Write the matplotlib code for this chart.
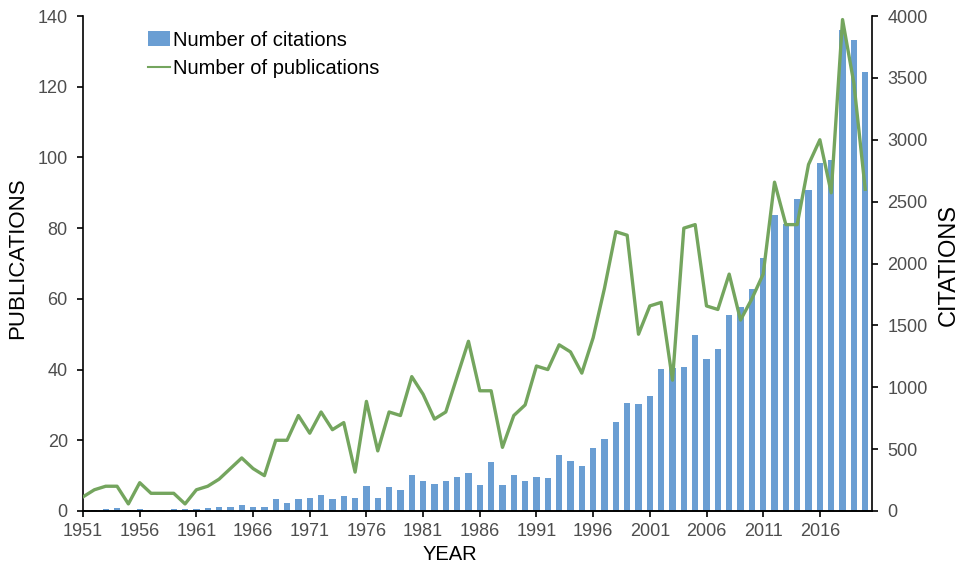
import matplotlib
matplotlib.use("Agg")
import matplotlib.pyplot as plt
import numpy as np
from matplotlib.patches import Patch
from matplotlib.lines import Line2D

years = list(range(1951, 2021))
publications = [4, 6, 7, 7, 2, 8, 5, 5, 5, 2,
                6, 7, 9, 12, 15, 12, 10, 20, 20, 27,
                22, 28, 23, 25, 11, 31, 17, 28, 27, 38,
                33, 26, 28, 38, 48, 34, 34, 18, 27, 30,
                41, 40, 47, 45, 39, 49, 63, 79, 78, 50,
                58, 59, 37, 80, 81, 58, 57, 67, 54, 60,
                67, 93, 81, 81, 98, 105, 90, 139, 121, 91]
citations = [5, 5, 19, 27, 11, 19, 11, 8, 13, 13,
             19, 22, 32, 32, 45, 31, 35, 95, 65, 97,
             103, 131, 95, 119, 105, 203, 108, 195, 167, 294,
             244, 219, 245, 276, 303, 211, 392, 211, 290, 244,
             271, 265, 450, 401, 363, 505, 584, 720, 870, 862,
             932, 1147, 1152, 1166, 1424, 1227, 1307, 1583, 1645, 1790,
             2046, 2388, 2320, 2520, 2592, 2812, 2840, 3890, 3810, 3550]
tick_years = [str(y) for y in range(1951, 2020, 5)]

plt.rcParams['font.family'] = ['Liberation Sans', 'DejaVu Sans']

W, H = 961, 566
fig = plt.figure(figsize=(W / 100, H / 100), dpi=100)
ax = fig.add_axes([0.0864, 0.0972, 0.8210, 0.8745])
ax2 = ax.twinx()

bar_color = '#6A9ED3'
line_color = '#74A55E'
tick_color = '#4D4D4D'

x = np.arange(len(years))
ax2.bar(x, citations, width=0.55, color=bar_color, zorder=2)
ax.plot(x, publications, color=line_color, linewidth=2.4, zorder=3)

ax.set_zorder(ax2.get_zorder() + 1)
ax.patch.set_visible(False)

ax.set_xlim(0, 69.6)
ax.set_ylim(0, 140)
ax2.set_ylim(0, 4000)
ax.set_yticks(range(0, 141, 20))
ax2.set_yticks(range(0, 4001, 500))

tick_pos = [years.index(int(t)) for t in tick_years]
ax.set_xticks(tick_pos)
ax.set_xticklabels(tick_years)

for a in (ax, ax2):
    a.spines['top'].set_visible(False)
    for s in a.spines.values():
        s.set_linewidth(1.2)
        s.set_color('black')
    a.tick_params(direction='out', length=4, width=1.2, labelsize=13,
                  labelcolor=tick_color, color='black', pad=7)
ax.tick_params(axis='x', pad=5)
ax2.spines['left'].set_visible(False)
ax.spines['right'].set_visible(False)

fig.text(18 / W, 1 - 258 / H, 'PUBLICATIONS', fontsize=16, rotation=90,
         ha='center', va='center')
fig.text(949 / W, 1 - 265 / H, 'CITATIONS', fontsize=17, rotation=90,
         ha='center', va='center')
fig.text(450 / W, 1 - 555 / H, 'YEAR', fontsize=14.5,
         ha='center', va='center')

handles = [Patch(facecolor=bar_color, edgecolor='none'),
           Line2D([0], [0], color=line_color, linewidth=1.5)]
ax.legend(handles, ['Number of citations', 'Number of publications'],
          loc='upper left', bbox_to_anchor=(0.067, 0.995), frameon=False,
          fontsize=14.5, handlelength=1.1, handletextpad=0.15,
          labelspacing=0.48, borderaxespad=0.2)

fig.savefig('out.png', dpi=100)
